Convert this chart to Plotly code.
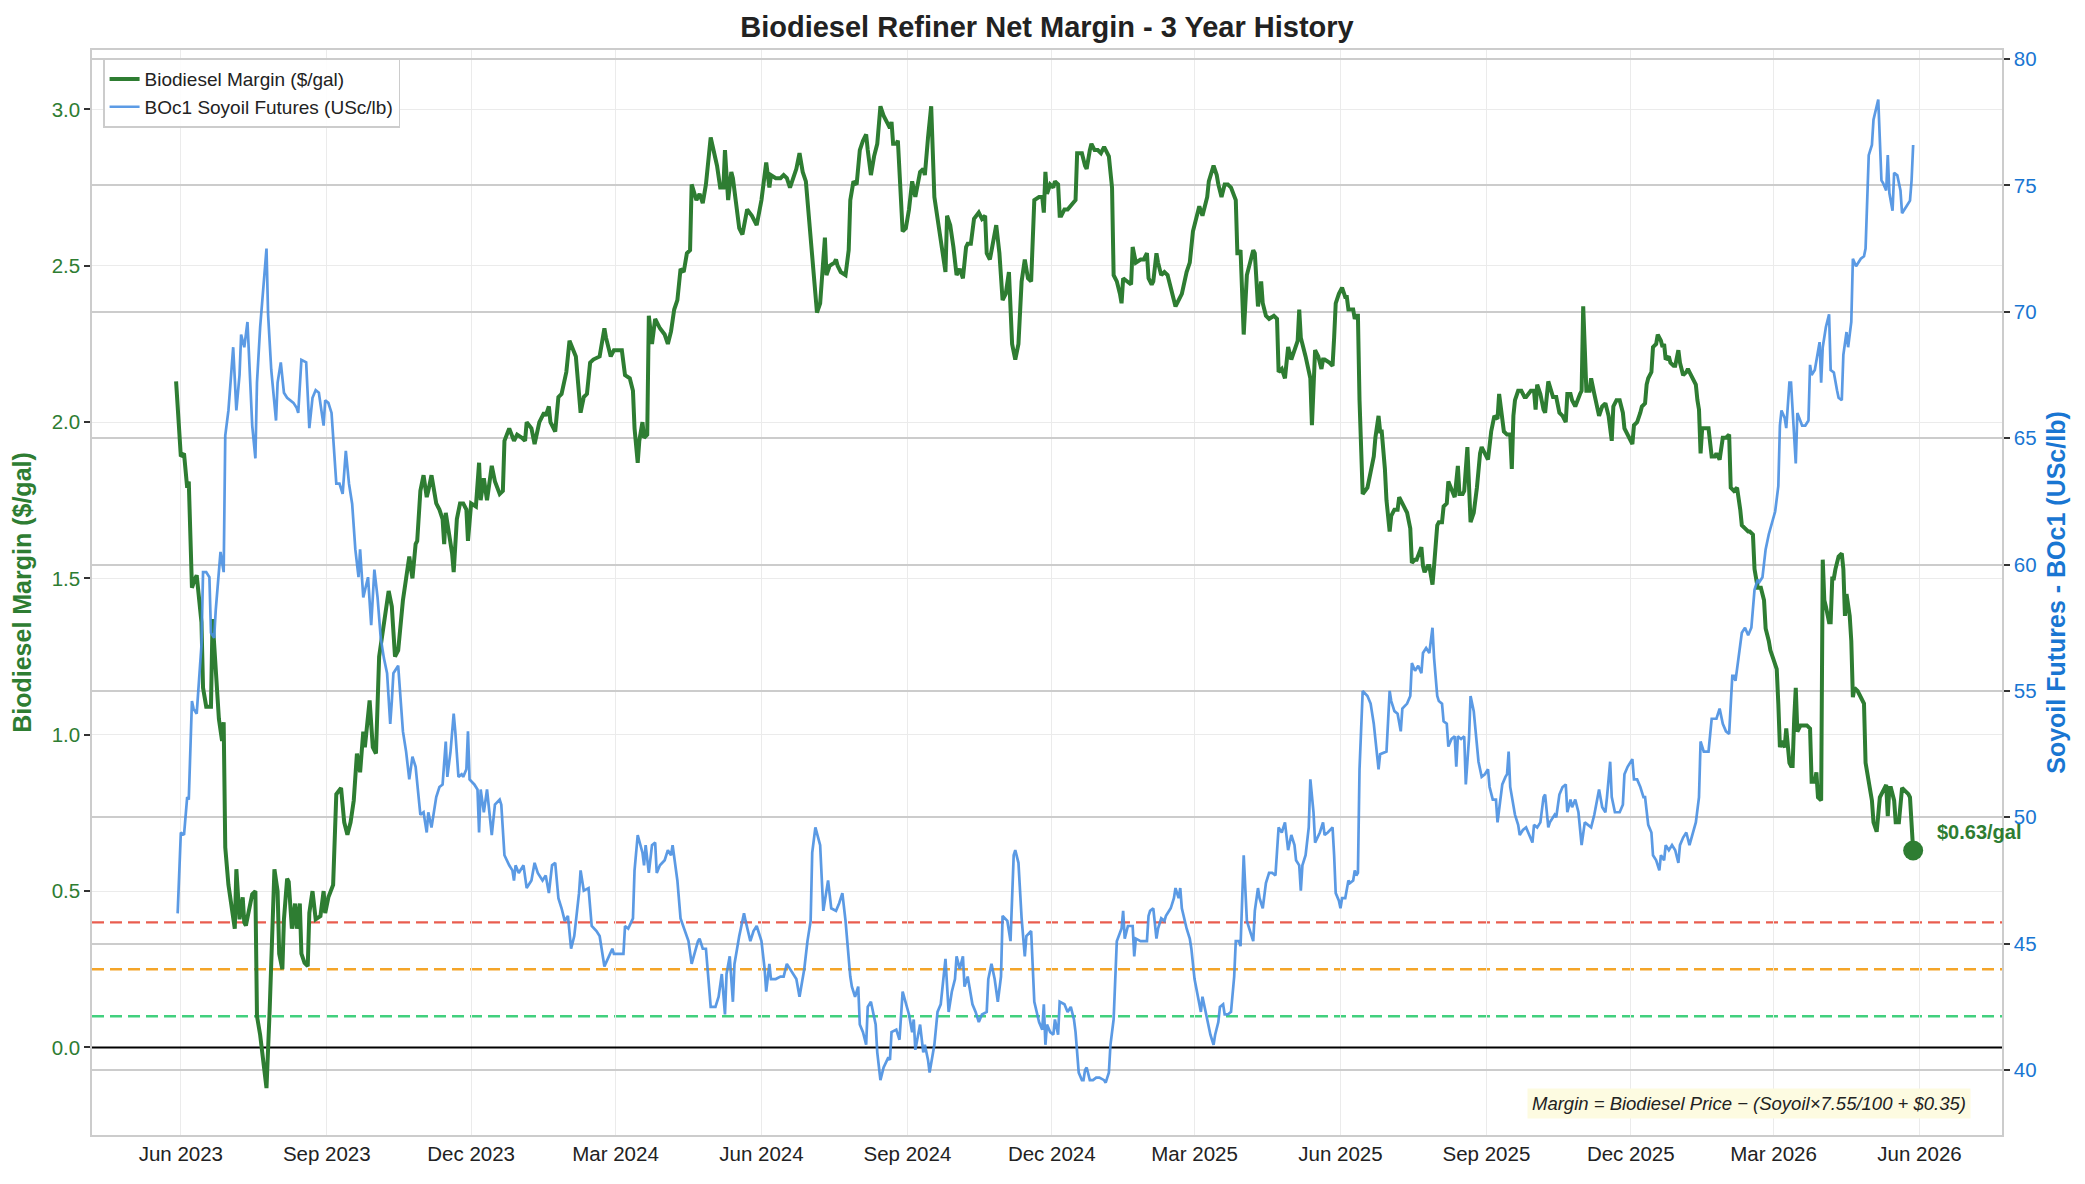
import pandas as pd
import plotly.graph_objects as go

# day numbers are counted from 1 Jun 2023
START = pd.Timestamp("2023-06-01")

margin_day = [
    -3, 0, 2, 4, 5, 6, 7, 9, 10, 13,
    14, 16, 19, 20, 22, 24, 26, 27, 28, 30,
    34, 35, 37, 39, 40, 41, 43, 45, 47, 48,
    50, 54, 56, 58, 59, 61, 62, 64, 65, 67,
    68, 70, 72, 73, 75, 76, 78, 80, 81, 83,
    85, 88, 90, 91, 93, 96, 98, 101, 103, 105,
    107, 109, 111, 113, 115, 116, 119, 121, 123, 125,
    127, 129, 131, 133, 135, 137, 140, 142, 144, 146,
    148, 149, 151, 153, 155, 156, 158, 161, 163, 165,
    166, 167, 169, 171, 172, 174, 176,
    178, 180, 181, 183, 186, 188, 189, 191, 193, 196,
    198, 201, 203, 204, 207, 210, 212, 215, 217, 218,
    221, 223, 226, 229, 230, 232, 233, 236, 238, 240,
    243, 245, 249, 252, 254, 256, 258, 260, 264, 267,
    268, 271, 273, 278, 280, 283, 285, 286, 288, 289,
    291, 292, 294, 295, 297, 299, 302, 305, 307, 309,
    311, 313, 315, 317, 319, 321, 322, 325, 327, 329,
    331, 334, 336, 338, 340, 342, 343, 345, 347, 348,
    350, 352, 354, 357, 360,
    363, 366, 368, 369, 371, 372, 375, 378, 380, 382,
    384, 386, 388, 390, 392, 394, 396, 398, 400, 401,
    403, 405, 406, 407, 409, 412, 413, 414, 416, 419,
    421, 422, 424, 426, 428, 430, 432, 433, 435, 437,
    439, 441, 443, 445, 447, 448, 449, 451, 452, 455,
    457, 459, 461, 463, 464, 466, 468, 469, 471, 473,
    475, 477, 479, 482, 483, 485, 487, 489, 491, 493,
    495, 496, 498, 500, 503, 505, 507, 508, 510, 512,
    514, 516, 518, 520, 522, 524, 526, 528, 530, 532,
    534, 536, 538, 541,
    543, 544, 545, 546, 548, 550, 551, 553, 554, 555,
    557, 559, 562, 564, 565, 567, 568, 570, 571, 573,
    574, 576, 578, 580, 582, 585, 586, 587, 588, 590,
    592, 593, 594, 597, 599, 600, 602, 605, 607, 609,
    610, 612, 613, 615, 616, 618, 620, 622, 623, 625,
    627, 628, 631, 634, 636, 638, 639, 641, 642, 644,
    645, 647, 648, 651, 653, 654, 656, 658, 660, 662,
    665, 666, 667, 668, 670, 672, 674, 676, 677, 678,
    679, 681, 682, 684, 686, 689, 691, 692, 694, 696,
    698, 700, 702, 704, 705, 706, 709, 711, 712, 713,
    714, 715, 717, 719, 720, 721, 724, 726,
    727, 728, 730, 732, 734, 735, 736, 738, 739, 740,
    741, 742, 743, 745, 748, 750, 752, 753, 755, 756,
    757, 759, 760, 762, 763, 765, 767, 768, 771, 773,
    775, 776, 778, 779, 782, 783, 784, 786, 787, 789,
    790, 792, 793, 795, 796, 798, 799, 801, 803, 805,
    806, 808, 809, 811, 812, 813, 815, 817, 819, 820,
    822, 824, 826, 828, 830, 831, 833, 834, 836, 838,
    839, 840, 841, 843, 845, 847, 848, 851, 853, 854,
    855, 857, 859, 860, 862, 865, 867, 869, 871, 873,
    874, 876, 877, 879, 882, 883, 884, 885, 886, 888,
    889, 891, 893, 894, 896, 898, 900, 902, 903, 905,
    907, 909, 910, 912, 914, 915, 916, 918, 920, 921,
    923, 924, 925, 927, 928, 930, 931, 933, 934, 935,
    936, 938, 939, 941, 942, 944, 945, 947, 949, 950,
    951, 953, 955, 956, 957, 958, 959, 961, 963, 965,
    967, 968, 970, 972, 974, 976, 977, 979, 981, 983,
    984, 986, 988, 989, 991, 992, 994, 995, 996, 998,
    999, 1001, 1002, 1004, 1006, 1007, 1008, 1009, 1011, 1012,
    1014, 1015, 1016, 1017, 1018, 1019, 1021, 1023, 1025, 1027,
    1028, 1030, 1031, 1032, 1034, 1035, 1036, 1037, 1039, 1040,
    1041, 1042, 1043, 1045, 1047, 1048, 1049, 1050, 1052, 1053,
    1054, 1055, 1057, 1059, 1061, 1062, 1064, 1066, 1067, 1069,
    1071, 1073, 1075, 1076, 1077, 1078, 1080, 1081, 1083, 1085,
    1087, 1089, 1090, 1092,
]

margin_val = [
    2.13, 1.89, 1.90, 1.79, 1.81, 1.63, 1.47, 1.50, 1.51, 1.36,
    1.15, 1.09, 1.09, 1.37, 1.19, 1.05, 0.98, 1.04, 0.64, 0.52,
    0.38, 0.57, 0.41, 0.48, 0.40, 0.39, 0.44, 0.49, 0.50, 0.10,
    0.04, -0.13, 0.12, 0.37, 0.57, 0.50, 0.30, 0.25, 0.41, 0.54,
    0.53, 0.38, 0.46, 0.38, 0.46, 0.30, 0.27, 0.26, 0.43, 0.50,
    0.41, 0.42, 0.50, 0.43, 0.48, 0.52, 0.81, 0.83, 0.72, 0.68,
    0.72, 0.79, 0.94, 0.88, 1.01, 0.96, 1.11, 0.96, 0.94, 1.25,
    1.32, 1.38, 1.46, 1.41, 1.25, 1.27, 1.43, 1.50, 1.57, 1.50,
    1.61, 1.62, 1.78, 1.83, 1.76, 1.78, 1.83, 1.74, 1.72, 1.69,
    1.61, 1.71, 1.65, 1.58, 1.52, 1.69, 1.74,
    1.74, 1.72, 1.62, 1.74, 1.73, 1.87, 1.75, 1.82, 1.75, 1.86,
    1.81, 1.77, 1.78, 1.94, 1.98, 1.94, 1.96, 1.95, 1.94, 2.00,
    1.98, 1.93, 2.00, 2.03, 2.02, 2.05, 2.00, 1.97, 2.08, 2.09,
    2.16, 2.26, 2.21, 2.03, 2.08, 2.09, 2.19, 2.20, 2.21, 2.30,
    2.27, 2.21, 2.23, 2.23, 2.15, 2.14, 2.10, 1.98, 1.87, 1.94,
    2.00, 1.95, 1.96, 2.34, 2.25, 2.33, 2.30, 2.28, 2.25, 2.29,
    2.36, 2.39, 2.49, 2.48, 2.54, 2.55, 2.76, 2.71, 2.73, 2.70,
    2.76, 2.91, 2.87, 2.82, 2.75, 2.75, 2.87, 2.71, 2.80, 2.78,
    2.70, 2.62, 2.60, 2.68, 2.66,
    2.63, 2.71, 2.79, 2.83, 2.75, 2.79, 2.78, 2.78, 2.79, 2.78,
    2.75, 2.78, 2.81, 2.86, 2.80, 2.77, 2.65, 2.51, 2.41, 2.35,
    2.38, 2.51, 2.59, 2.47, 2.50, 2.51, 2.52, 2.50, 2.48, 2.47,
    2.55, 2.71, 2.77, 2.76, 2.87, 2.90, 2.92, 2.87, 2.79, 2.85,
    2.89, 3.01, 2.98, 2.96, 2.94, 2.96, 2.89, 2.89, 2.90, 2.61,
    2.62, 2.68, 2.77, 2.72, 2.75, 2.80, 2.81, 2.79, 2.91, 3.01,
    2.72, 2.65, 2.60, 2.48, 2.66, 2.63, 2.56, 2.47, 2.49, 2.46,
    2.56, 2.57, 2.57, 2.65, 2.67, 2.65, 2.66, 2.54, 2.52, 2.58,
    2.63, 2.54, 2.39, 2.41, 2.48, 2.25, 2.20, 2.25, 2.45, 2.52,
    2.46, 2.45, 2.71, 2.72,
    2.72, 2.67, 2.80, 2.73, 2.76, 2.75, 2.77, 2.76, 2.66, 2.66,
    2.68, 2.68, 2.70, 2.71, 2.86, 2.86, 2.86, 2.82, 2.81, 2.87,
    2.89, 2.87, 2.87, 2.86, 2.88, 2.85, 2.78, 2.75, 2.47, 2.45,
    2.41, 2.38, 2.46, 2.45, 2.44, 2.56, 2.51, 2.52, 2.52, 2.54,
    2.46, 2.44, 2.45, 2.54, 2.51, 2.47, 2.48, 2.47, 2.45, 2.41,
    2.37, 2.38, 2.41, 2.48, 2.51, 2.61, 2.63, 2.66, 2.69, 2.66,
    2.68, 2.72, 2.77, 2.82, 2.79, 2.76, 2.72, 2.76, 2.76, 2.75,
    2.71, 2.54, 2.54, 2.55, 2.28, 2.47, 2.51, 2.55, 2.54, 2.42,
    2.37, 2.45, 2.38, 2.34, 2.33, 2.34, 2.33, 2.16, 2.17, 2.14,
    2.24, 2.20, 2.23, 2.26, 2.36, 2.27, 2.21, 2.17, 2.14, 1.99,
    2.12, 2.23, 2.21, 2.17, 2.20, 2.20, 2.19, 2.18,
    2.27, 2.38, 2.41, 2.43, 2.40, 2.40, 2.36, 2.36, 2.36, 2.33,
    2.34, 2.34, 2.07, 1.77, 1.79, 1.84, 1.89, 1.95, 2.02, 1.97,
    1.97, 1.85, 1.75, 1.65, 1.70, 1.72, 1.72, 1.76, 1.73, 1.71,
    1.66, 1.55, 1.56, 1.56, 1.60, 1.54, 1.52, 1.54, 1.54, 1.48,
    1.54, 1.67, 1.68, 1.68, 1.73, 1.74, 1.81, 1.78, 1.76, 1.86,
    1.77, 1.77, 1.78, 1.92, 1.77, 1.68, 1.71, 1.79, 1.90, 1.92,
    1.90, 1.88, 1.97, 2.02, 2.01, 2.09, 2.01, 1.97, 1.96, 1.96,
    1.85, 2.02, 2.07, 2.10, 2.10, 2.08, 2.08, 2.10, 2.10, 2.04,
    2.12, 2.09, 2.04, 2.03, 2.13, 2.08, 2.08, 2.03, 2.02, 2.00,
    2.09, 2.09, 2.07, 2.05, 2.09, 2.10, 2.37, 2.24, 2.10, 2.10,
    2.14, 2.09, 2.05, 2.02, 2.05, 2.06, 2.02, 1.94, 2.05, 2.07,
    2.07, 2.03, 1.98, 1.96, 1.94, 1.93, 1.99, 2.00, 2.03, 2.05,
    2.06, 2.12, 2.14, 2.16, 2.24, 2.25, 2.28, 2.26, 2.24, 2.25,
    2.20, 2.21, 2.19, 2.18, 2.18, 2.23, 2.19, 2.15, 2.16, 2.17,
    2.16, 2.14, 2.12, 2.07, 2.04, 1.90, 1.98, 1.98, 1.98, 1.89,
    1.89, 1.90, 1.88, 1.95, 1.95, 1.96, 1.79, 1.78, 1.79, 1.72,
    1.67, 1.66, 1.65, 1.65, 1.64, 1.53, 1.47, 1.47, 1.47, 1.43,
    1.34, 1.30, 1.27, 1.24, 1.21, 1.10, 0.96, 0.98, 0.96, 1.02,
    0.91, 0.90, 0.90, 1.05, 1.15, 1.01, 1.03, 1.03, 1.03, 1.02,
    0.85, 0.85, 0.88, 0.80, 0.79, 1.56, 1.43, 1.41, 1.36, 1.36,
    1.50, 1.50, 1.53, 1.57, 1.58, 1.53, 1.38, 1.45, 1.38, 1.30,
    1.12, 1.15, 1.14, 1.12, 1.10, 0.91, 0.84, 0.79, 0.72, 0.69,
    0.80, 0.82, 0.84, 0.74, 0.83, 0.83, 0.79, 0.72, 0.72, 0.83,
    0.82, 0.81, 0.80, 0.63,
]

soy_day = [
    -2, 0, 2, 4, 5, 7, 8, 10, 13, 14,
    16, 18, 19, 21, 22, 25, 27, 28, 30, 33,
    35, 37, 38, 40, 42, 43, 45, 47, 48, 50,
    52, 54, 55, 57, 60, 61, 63, 65, 67, 69,
    71, 73, 74, 76, 79, 81, 83, 85, 87, 90,
    91, 93, 95, 98, 100, 102, 104, 106, 108, 110,
    112, 113, 115, 118, 120, 122, 124, 126, 128, 130,
    132, 133, 134, 137, 139, 140, 142, 144, 146, 148,
    151, 153, 155, 156, 158, 161, 163, 165, 167, 168,
    170, 172, 173, 175, 177,
    178, 180, 181, 182, 185, 187, 188, 189, 191, 193,
    196, 198, 201, 202, 204, 207, 209, 210, 211, 213,
    216, 218, 221, 223, 225, 228, 230, 232, 234, 236,
    238, 240, 242, 244, 246, 248, 251, 252, 254, 257,
    259, 262, 264, 267, 270, 272, 273, 276, 279, 280,
    282, 285, 286, 288, 291, 292, 293, 295, 297, 299,
    300, 302, 305, 307, 309, 310, 313, 315, 318, 320,
    322, 324, 326, 327, 329, 331, 332, 334, 337, 339,
    341, 343, 344, 346, 348, 349, 352, 355, 356, 359,
    361, 363, 366, 368, 369, 371, 372, 375, 378, 380,
    382, 386, 388, 390, 392, 393, 395, 397, 398, 400,
    403, 405, 408, 409, 410, 413, 415, 417, 419, 422,
    423, 425, 427, 428, 430, 432, 433, 435, 438, 439,
    441, 443, 446, 447, 448, 451, 453, 455, 457, 459,
    461, 462, 463, 465, 466, 468, 469, 471, 472, 475,
    477, 479, 482, 484, 486, 488, 489, 491, 493, 494,
    496, 499, 501, 503, 505, 508, 509, 511, 513, 515,
    517, 518, 521, 523, 525, 526, 528, 530, 532, 533,
    536, 538, 541,
    543, 544, 545, 546, 548, 550, 551, 553, 554, 557,
    559, 561, 563, 564, 566, 568, 569, 570, 571, 573,
    575, 577, 579, 582, 583, 585, 586, 588, 590, 591,
    593, 594, 595, 597, 600, 601, 602, 605, 607, 609,
    610, 611, 613, 615, 616, 618, 620, 621, 623, 624,
    626, 627, 629, 630, 631, 634, 636, 637, 639, 640,
    642, 643, 644, 646, 648, 649, 651, 652, 654, 655,
    657, 658, 660, 662, 664, 665, 667, 668, 670, 672,
    674, 676, 677, 679, 680, 682, 684, 686, 688, 690,
    692, 694, 696, 698, 700, 702, 703, 705, 706, 707,
    709, 711, 712, 714, 715, 717, 718, 720, 721, 723,
    726,
    727, 728, 730, 731, 732, 734, 736, 737, 739, 740,
    741, 742, 743, 745, 748, 750, 752, 753, 755, 756,
    759, 760, 762, 763, 765, 767, 769, 770, 773, 775,
    776, 778, 780, 782, 783, 785, 787, 789, 790, 792,
    793, 795, 796, 798, 799, 801, 803, 804, 805, 807,
    809, 810, 812, 813, 815, 817, 818, 820, 822, 824,
    825, 827, 829, 830, 832, 833, 835, 836, 837, 838,
    841, 843, 844, 846, 848, 850, 852, 853, 855, 857,
    859, 860, 862, 863, 866, 867, 869, 871, 873, 874,
    876, 877, 879, 881, 883, 885, 887, 889, 891, 893,
    894, 896, 898, 899, 901, 902, 904, 906,
    907, 909, 910, 912, 914, 915, 916, 918, 920, 922,
    923, 925, 927, 928, 930, 932, 933, 935, 936, 938,
    940, 942, 944, 945, 947, 949, 951, 953, 955, 957,
    958, 960, 963, 965, 967, 968, 970, 972, 974, 976,
    978, 979, 980, 982, 984, 986, 988, 990, 992, 994,
    995, 997, 999, 1001, 1003, 1005, 1007, 1008, 1009, 1011,
    1012, 1014, 1015, 1017, 1018, 1019, 1022, 1024, 1026, 1027,
    1028, 1030, 1032, 1033, 1034, 1035, 1037, 1039, 1040, 1042,
    1044, 1045, 1047, 1048, 1050, 1051, 1053, 1054, 1056, 1059,
    1061, 1062, 1064, 1066, 1067, 1069, 1070, 1072, 1073, 1075,
    1076, 1077, 1079, 1080, 1082, 1084, 1085, 1088, 1090, 1091,
    1092,
]

soy_val = [
    46.2, 49.4, 49.3, 50.8, 50.7, 54.6, 54.3, 54.1, 56.8, 59.7,
    59.7, 59.5, 57.3, 57.1, 58.2, 60.5, 59.7, 65.1, 66.1, 68.6,
    66.1, 67.5, 69.1, 68.6, 69.6, 68.0, 65.5, 64.2, 67.2, 69.4,
    70.9, 72.5, 69.9, 67.7, 65.7, 67.2, 68.0, 66.8, 66.6, 66.5,
    66.4, 66.2, 66.0, 68.1, 68.0, 65.4, 66.6, 66.9, 66.8, 65.5,
    66.5, 66.4, 66.0, 63.2, 63.2, 62.8, 64.5, 63.2, 62.4, 60.6,
    59.5, 60.6, 58.7, 59.5, 57.6, 59.8, 58.7, 57.1, 56.3, 55.7,
    53.7, 54.6, 55.7, 56.0, 54.1, 53.4, 52.6, 51.5, 52.4, 52.0,
    50.1, 50.2, 49.4, 50.2, 49.6, 50.8, 51.2, 51.3, 53.0, 51.6,
    52.6, 54.1, 53.4, 51.6, 51.7,
    51.6, 51.9, 53.4, 51.5, 51.3, 51.1, 49.4, 51.1, 50.2, 51.1,
    49.3, 50.5, 50.7, 50.5, 48.5, 48.1, 47.9, 47.5, 48.1, 47.8,
    48.1, 47.2, 47.5, 48.2, 47.8, 47.5, 47.7, 47.0, 48.1, 48.2,
    46.8, 46.4, 45.9, 46.1, 44.8, 45.3, 47.0, 47.9, 47.1, 47.2,
    45.7, 45.5, 45.3, 44.1, 44.5, 44.8, 44.6, 44.6, 44.6, 45.7,
    45.6, 46.0, 47.9, 49.3, 48.6, 48.1, 48.9, 47.8, 48.9, 49.0,
    47.8, 48.1, 48.3, 48.7, 48.5, 48.9, 47.5, 46.0, 45.5, 45.1,
    44.2, 44.6, 45.1, 45.2, 44.8, 44.8, 44.0, 42.5, 42.5, 42.9,
    43.8, 42.2, 43.8, 44.5, 42.7, 44.2, 45.3, 46.2, 45.9, 45.1,
    45.5, 45.7, 45.1, 44.0, 43.1, 44.2, 43.6, 43.6, 43.7, 43.7,
    44.2, 43.8, 43.6, 42.9, 43.6, 44.0, 45.1, 45.9, 48.6, 49.6,
    48.9, 46.3, 47.5, 47.0, 46.4, 46.3, 46.6, 47.0, 45.9, 43.7,
    43.3, 42.9, 43.3, 41.8, 41.5, 41.0, 42.5, 42.7, 41.8, 40.7,
    39.6, 40.1, 40.5, 40.4, 41.5, 41.6, 41.2, 43.1, 42.7, 42.2,
    41.5, 42.0, 40.8, 41.5, 41.8, 40.7, 41.0, 40.4, 39.9, 41.0,
    42.3, 42.6, 44.4, 42.3, 43.1, 43.6, 44.5, 44.0, 44.5, 43.3,
    43.7, 42.6, 42.3, 41.9, 42.2, 42.3, 43.6, 44.2, 43.6, 42.7,
    43.7, 46.1, 45.9, 45.1, 48.5, 48.7, 48.2, 46.0, 44.5, 45.3,
    45.5, 42.7, 41.9,
    41.6, 42.6, 41.0, 41.8, 41.5, 41.4, 42.0, 41.4, 42.7, 42.6,
    42.3, 42.5, 42.0, 41.5, 39.9, 39.6, 39.6, 40.0, 40.1, 39.6,
    39.6, 39.7, 39.7, 39.6, 39.5, 39.9, 41.0, 42.0, 45.1, 45.3,
    45.6, 46.3, 45.2, 45.7, 45.7, 44.5, 45.2, 45.1, 45.1, 45.1,
    46.1, 46.3, 46.4, 45.2, 45.6, 46.0, 45.9, 46.1, 46.3, 46.4,
    46.8, 47.2, 46.8, 47.2, 46.4, 45.6, 45.2, 44.8, 43.6, 43.3,
    42.6, 42.3, 42.9, 42.3, 41.8, 41.4, 41.0, 41.4, 41.9, 42.5,
    42.6, 42.2, 42.2, 42.3, 43.7, 45.1, 45.1, 44.9, 48.5, 45.9,
    45.5, 45.1, 46.3, 47.2, 46.8, 46.4, 47.4, 47.8, 47.8, 47.7,
    49.6, 49.4, 49.8, 48.7, 49.3, 48.9, 48.3, 48.1, 47.1, 48.1,
    48.5, 49.6, 51.5, 50.2, 49.0, 49.3, 49.4, 49.8, 49.3, 49.4,
    49.6,
    48.5, 47.0, 46.7, 46.4, 46.8, 46.8, 47.5, 47.4, 47.5, 47.9,
    47.7, 47.8, 51.9, 55.0, 54.8, 54.5, 53.7, 53.0, 51.9, 52.5,
    52.6, 52.6, 55.0, 54.6, 54.2, 54.1, 53.4, 54.3, 54.5, 54.8,
    56.1, 55.8, 56.0, 55.7, 56.5, 56.7, 56.5, 57.5, 56.3, 54.8,
    54.6, 54.5, 53.8, 53.7, 52.8, 53.1, 53.2, 52.0, 53.2, 53.1,
    53.2, 51.3, 53.1, 54.8, 54.2, 52.7, 52.2, 51.6, 51.7, 51.9,
    51.2, 50.7, 50.7, 49.8, 50.7, 51.3, 51.6, 51.7, 52.6, 51.2,
    50.1, 49.7, 49.3, 49.5, 49.6, 49.3, 49.0, 49.7, 49.6, 49.8,
    50.8, 50.9, 49.6, 49.8, 50.1, 50.0, 50.9, 51.2, 51.3, 50.2,
    50.7, 50.4, 50.7, 50.2, 48.9, 49.8, 49.7, 49.6, 50.1, 50.7,
    51.1, 50.4, 50.2, 50.8, 52.2, 50.8, 50.2, 50.2,
    50.2, 50.5, 51.7, 52.0, 52.2, 52.3, 51.5, 51.5, 51.2, 50.8,
    50.8, 49.7, 49.4, 48.5, 48.3, 47.9, 48.5, 48.3, 48.9, 48.7,
    48.9, 48.7, 48.2, 48.9, 49.2, 49.4, 48.9, 49.4, 49.8, 50.8,
    53.0, 52.6, 52.6, 53.9, 53.9, 53.9, 54.3, 53.7, 53.4, 53.3,
    55.6, 55.6, 55.4, 56.4, 57.3, 57.5, 57.2, 57.5, 59.0, 59.4,
    59.3, 59.5, 60.6, 61.2, 61.7, 62.1, 63.1, 65.5, 66.1, 65.8,
    65.4, 67.2, 67.2, 65.1, 64.0, 66.0, 65.5, 65.5, 65.7, 67.9,
    67.5, 67.7, 68.4, 68.8, 67.2, 68.6, 69.4, 69.9, 67.7, 67.6,
    66.9, 66.6, 66.5, 68.3, 69.2, 68.6, 69.6, 72.1, 71.8, 72.1,
    72.2, 72.5, 76.2, 76.6, 77.6, 78.1, 78.4, 75.2, 75.1, 74.8,
    76.2, 74.7, 74.0, 75.5, 75.4, 74.8, 73.9, 74.2, 74.4, 75.2,
    76.6,
]

threshold_val = [0.40, 0.25, 0.10]
threshold_color = ["#e74c3c", "#f39c12", "#2ecc71"]
x_range = ["2023-04-06", "2026-07-23"]

assert len(margin_day) == len(margin_val), (len(margin_day), len(margin_val))
assert len(soy_day) == len(soy_val), (len(soy_day), len(soy_val))

margin_dates = START + pd.to_timedelta(margin_day, unit="D")
soy_dates = START + pd.to_timedelta(soy_day, unit="D")

GREEN = "#2e7d32"
BLUE = "#4a90e2"
BLUE_AXIS = "#1976d2"
FONT = "Liberation Sans, Arial, sans-serif"

fig = go.Figure()
# zero line as a trace on the margin axis so the soyoil line sits on top of it
fig.add_trace(go.Scatter(x=x_range, y=[0, 0], mode="lines", line=dict(color="black", width=2),
                         showlegend=False, hoverinfo="skip", yaxis="y"))
fig.add_trace(go.Scatter(x=margin_dates, y=margin_val, mode="lines",
                         name="Biodiesel Margin ($/gal)",
                         line=dict(color=GREEN, width=4), yaxis="y"))
fig.add_trace(go.Scatter(x=[margin_dates[-1]], y=[margin_val[-1]], mode="markers",
                         marker=dict(color=GREEN, size=20), showlegend=False, yaxis="y"))
fig.add_trace(go.Scatter(x=soy_dates, y=soy_val, mode="lines",
                         name="BOc1 Soyoil Futures (USc/lb)",
                         line=dict(color=BLUE, width=2.7), opacity=0.9, yaxis="y2"))

for val, col in zip(threshold_val, threshold_color):
    fig.add_shape(type="line", xref="paper", x0=0, x1=1, yref="y", y0=val, y1=val,
                  line=dict(color=col, width=2.4, dash="12px,6px"), opacity=0.9, layer="between")

fig.add_annotation(x=margin_dates[-1], y=margin_val[-1], xref="x", yref="y",
                   text=f"<b>${margin_val[-1]:.2f}/gal</b>", showarrow=False,
                   xanchor="left", yanchor="middle", xshift=22, yshift=18,
                   font=dict(size=20, color=GREEN, family=FONT))
fig.add_annotation(x=0.984, y=0.029, xref="paper", yref="paper",
                   text="<i>Margin = Biodiesel Price \u2212 (Soyoil\u00d77.55/100 + $0.35)</i>",
                   showarrow=False, xanchor="right", yanchor="middle",
                   bgcolor="#fdfbe1", borderpad=4,
                   font=dict(size=18.5, color="#222", family=FONT))

# the page adds an 8px body margin, so the figure is 8px smaller than the window
fig.update_layout(
    width=2077, height=1176,
    margin=dict(l=82, r=83, t=42, b=49),
    paper_bgcolor="white", plot_bgcolor="white",
    font=dict(family=FONT, size=20, color="#222"),
    title=dict(text="<b>Biodiesel Refiner Net Margin - 3 Year History</b>",
               x=0.5, xref="paper", xanchor="center", y=0.984, yref="container", yanchor="middle",
               font=dict(size=29, color="#222")),
    legend=dict(x=0.0058, y=0.992, xanchor="left", yanchor="top",
                bgcolor="rgba(255,255,255,0.9)", bordercolor="#cccccc", borderwidth=1.5,
                font=dict(size=19, color="#222"), tracegroupgap=2),
    xaxis=dict(type="date", range=x_range,
               tick0="2023-06-01", dtick="M3", tickformat="%b %Y",
               showgrid=True, gridcolor="#ebebeb", gridwidth=1.3,
               showline=True, linecolor="#cccccc", linewidth=1.5, mirror=True,
               zeroline=False, ticks="", tickfont=dict(size=20.5, color="#222")),
    yaxis=dict(range=[-0.28, 3.19], tick0=0, dtick=0.5, tickformat=".1f",
               showgrid=True, gridcolor="#ebebeb", gridwidth=1.3, zeroline=False,
               showline=True, linecolor="#cccccc", linewidth=1.5, mirror=True,
               ticks="outside", ticklen=6, tickwidth=1.5, tickcolor="#333",
               tickfont=dict(size=20.5, color=GREEN),
               title=dict(text="<b>Biodiesel Margin ($/gal)</b>", standoff=14,
                          font=dict(size=25, color=GREEN))),
    yaxis2=dict(range=[37.43, 80.36], tick0=40, dtick=5, overlaying="y", side="right",
                showgrid=True, gridcolor="#cccccc", gridwidth=1.6, zeroline=False,
                showline=True, linecolor="#cccccc", linewidth=1.5,
                ticks="outside", ticklen=6, tickwidth=1.5, tickcolor="#333",
                tickfont=dict(size=20.5, color=BLUE_AXIS),
                title=dict(text="<b>Soyoil Futures - BOc1 (USc/lb)</b>", standoff=12,
                           font=dict(size=25, color=BLUE_AXIS))),
)

fig.write_html("out.html")
